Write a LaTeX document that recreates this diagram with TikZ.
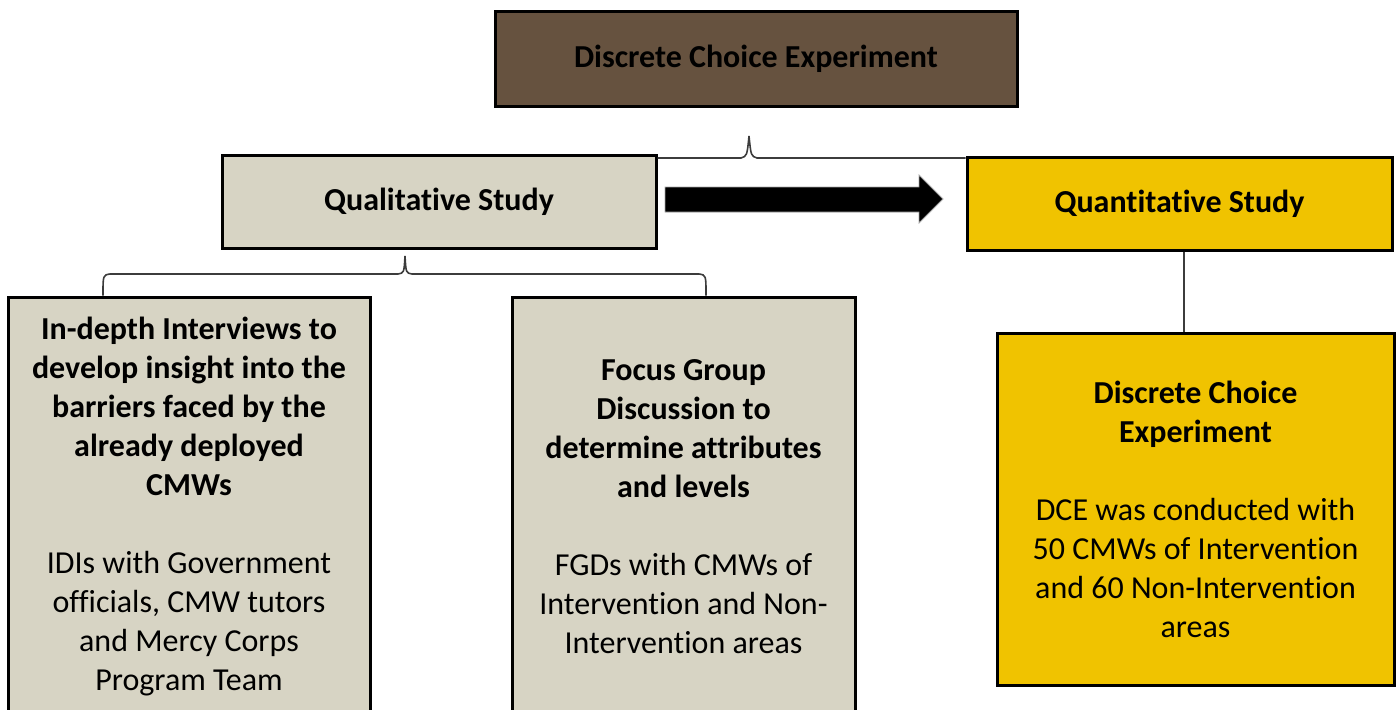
\documentclass[tikz,border=0pt]{standalone}
\usepackage{fontspec}
\setmainfont{Carlito}[Ligatures=NoCommon]
\usepackage{xcolor}
\definecolor{brownbox}{HTML}{66523F}
\definecolor{beigebox}{HTML}{D7D4C4}
\definecolor{goldbox}{HTML}{F0C300}
\definecolor{bracegray}{HTML}{3C3C3C}
\tikzset{
  box/.style={draw=black,line width=1.5pt,align=center,inner sep=0pt,
    font=\fontsize{16}{19.5}\selectfont},
  brace/.style={draw=bracegray,line width=0.8pt}
}
\begin{document}
\begin{tikzpicture}[x=0.5pt,y=-0.5pt]
  \useasboundingbox (0,0) rectangle (1400,709);
  \node[box,fill=brownbox,minimum width=261pt,minimum height=47.5pt](top) at (756,58.5) {\bfseries Discrete Choice Experiment};
  \node[box,fill=beigebox,minimum width=217pt,minimum height=46.5pt](qual) at (439,201.5) {\bfseries Qualitative Study};
  \node[box,fill=goldbox,minimum width=212.5pt,minimum height=46.5pt](quant) at (1179.5,203.5) {\bfseries Quantitative Study};
  \node[box,fill=beigebox,minimum width=181pt,minimum height=210pt](idi) at (189,507)
    {\bfseries In-depth Interviews to\\ \bfseries develop insight into the\\ \bfseries barriers faced by the\\ \bfseries already deployed\\ \bfseries CMWs\\[19.5pt]
     IDIs with Government\\ officials, CMW tutors\\ and Mercy Corps\\ Program Team};
  \node[box,fill=beigebox,minimum width=171.5pt,minimum height=210pt](fgd) at (683.5,507)
    {\bfseries Focus Group\\ \bfseries Discussion to\\ \bfseries determine attributes\\ \bfseries and levels\\[19.5pt]
     FGDs with CMWs of\\ Intervention and Non-\\ Intervention areas};
  \node[box,fill=goldbox,minimum width=198.5pt,minimum height=176pt](dce) at (1195.5,509)
    {\bfseries Discrete Choice\\ \bfseries Experiment\\[19.5pt]
     DCE was conducted with\\ 50 CMWs of Intervention\\ and 60 Non-Intervention\\ areas};
  % braces
  \coordinate(toptip) at (749,136);
  \coordinate(qualtip) at (405,256);
  \draw[brace] (qual.east |- 0,158) -- (741,158) .. controls (747,156) .. (toptip)
    .. controls (751,156) .. (757,158) -- (quant.west |- 0,158);
  \draw[brace] (idi.north -| 103,0) .. controls (103,275) .. (110,274) -- (398,274)
    .. controls (404,273) .. (qualtip) .. controls (406,273) .. (412,274) -- (699,274)
    .. controls (706,275) .. (fgd.north -| 706,0);
  % link
  \coordinate(link) at (1184,0);
  \draw[brace] (quant.south -| link) -- (dce.north -| link);
  % big arrow
  \fill[draw=gray!70,line width=0.4pt] (665,187) -- (919,187) -- (919,175) -- (943,199)
    -- (919,223) -- (919,212) -- (665,212) -- cycle;
\end{tikzpicture}
\end{document}
